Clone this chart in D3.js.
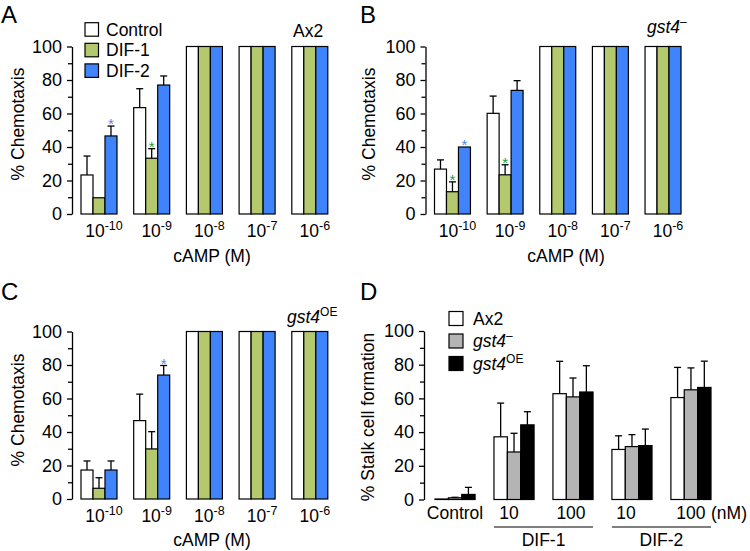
<!DOCTYPE html>
<html><head><meta charset="utf-8">
<script src="https://cdn.jsdelivr.net/npm/d3@7"></script>
<style>
body{margin:0;background:#fff;}
text{font-family:"Liberation Sans", Arial, Helvetica, sans-serif;fill:#000;}
</style></head><body>
<svg id="chart" width="750" height="551" xmlns="http://www.w3.org/2000/svg"></svg>
<script>
// ---------- data ----------
const camp = ["-10", "-9", "-8", "-7", "-6"];
const chemoSeries = ["Control", "DIF-1", "DIF-2"];
const chemoColors = ["#ffffff", "#b4c86e", "#4084fc"];

// Panel A (Ax2)
const aControl = [23.3, 63.5, 100, 100, 100];
const aControlErr = [11.3, 11.3, 0, 0, 0];
const aDif1 = [9.7, 33.3, 100, 100, 100];
const aDif1Err = [0, 5.7, 0, 0, 0];
const aDif2 = [46.6, 77.0, 100, 100, 100];
const aDif2Err = [5.9, 5.4, 0, 0, 0];
const aStars = [[0, 2], [1, 1]];

// Panel B (gst4-)
const bControl = [26.8, 60.1, 100, 100, 100];
const bControlErr = [5.5, 10.3, 0, 0, 0];
const bDif1 = [13.3, 23.4, 100, 100, 100];
const bDif1Err = [5.9, 6.0, 0, 0, 0];
const bDif2 = [40.0, 73.8, 100, 100, 100];
const bDif2Err = [0, 5.8, 0, 0, 0];
const bStars = [[0, 1], [0, 2], [1, 1]];

// Panel C (gst4OE)
const cControl = [17.3, 46.8, 100, 100, 100];
const cControlErr = [5.4, 15.8, 0, 0, 0];
const cDif1 = [6.4, 29.9, 100, 100, 100];
const cDif1Err = [6.3, 10.3, 0, 0, 0];
const cDif2 = [17.3, 74.0, 100, 100, 100];
const cDif2Err = [5.4, 5.7, 0, 0, 0];
const cStars = [[1, 2]];

// Panel D (stalk cell formation)
const stalkGroups = ["Control", "DIF-1 10", "DIF-1 100", "DIF-2 10", "DIF-2 100"];
const stalkTickLabels = ["Control", "10", "100", "10", "100"];
const strains = ["Ax2", "gst4-", "gst4OE"];
const strainColors = ["#ffffff", "#b4b4b4", "#000000"];
const dAx2 = [0.3, 37.2, 62.8, 29.7, 60.5];
const dAx2Err = [0, 20.0, 19.2, 8.1, 17.9];
const dGst4 = [1.0, 28.2, 60.9, 31.4, 65.1];
const dGst4Err = [0.3, 11.1, 11.2, 7.1, 13.0];
const dGst4OE = [3.0, 44.3, 63.8, 32.0, 66.5];
const dGst4OEErr = [4.2, 7.8, 15.6, 9.8, 15.6];

const majorTicks = [0, 20, 40, 60, 80, 100];
const minorTicks = [10, 30, 50, 70, 90];

// ---------- drawing ----------
const svg = d3.select("#chart");
const FS = 17.5;
const TFS = 18;

function drawPanel(p) {
  const g = svg.append("g");
  const y = d3.scaleLinear().domain([0, 100]).range([p.y0, p.y100]);
  const x0 = d3.scaleBand().domain(p.groups).range(p.xRange).paddingInner(p.padInner).paddingOuter(0);
  const x1 = d3.scaleBand().domain(p.series).range([0, x0.bandwidth()]);

  // axis
  const axG = g.append("g").attr("transform", `translate(${p.axisX},0)`);
  axG.call(d3.axisLeft(y).tickValues(majorTicks).tickSize(5).tickSizeOuter(0).tickPadding(5).tickFormat(d3.format("d")));
  axG.selectAll("text").style("font-size", TFS + "px").style("font-family", "'Liberation Sans', Arial, sans-serif");
  axG.select(".domain").attr("stroke-width", 1.3);
  axG.selectAll(".tick line").attr("stroke-width", 1.3);
  const mn = g.append("g").attr("transform", `translate(${p.axisX},0)`);
  mn.call(d3.axisLeft(y).tickValues(minorTicks).tickSize(4).tickSizeOuter(0).tickFormat(""));
  mn.select(".domain").remove();
  mn.selectAll(".tick line").attr("stroke-width", 1.3);

  // bars
  p.values.forEach((vals, si) => {
    const errs = p.errors[si];
    const bars = g.append("g");
    vals.forEach((v, gi) => {
      const bx = x0(p.groups[gi]) + x1(p.series[si]);
      const bw = x1.bandwidth();
      bars.append("rect")
        .attr("x", bx).attr("y", y(v))
        .attr("width", bw).attr("height", y(0) - y(v))
        .attr("fill", p.colors[si]).attr("stroke", "#000").attr("stroke-width", 1.2);
      if (errs[gi] > 0) {
        const cx = bx + bw / 2;
        bars.append("line").attr("x1", cx).attr("x2", cx)
          .attr("y1", y(v)).attr("y2", y(v + errs[gi]))
          .attr("stroke", "#000").attr("stroke-width", 1.3);
        bars.append("line").attr("x1", cx - 3.5).attr("x2", cx + 3.5)
          .attr("y1", y(v + errs[gi])).attr("y2", y(v + errs[gi]))
          .attr("stroke", "#000").attr("stroke-width", 1.3);
      }
    });
  });

  // stars
  (p.stars || []).forEach(([gi, si]) => {
    const bx = x0(p.groups[gi]) + x1(p.series[si]) + x1.bandwidth() / 2;
    const top = p.values[si][gi] + p.errors[si][gi];
    g.append("text").attr("x", bx).attr("y", y(top) + 3)
      .attr("text-anchor", "middle").style("font-size", "15px")
      .style("fill", p.starColors[si]).text("*");
  });
  return { g, x0, x1, y };
}

function campLabels(P, baseY, xOff, titleX, titleY) {
  camp.forEach(c => {
    const t = P.g.append("text").attr("x", P.x0(c) + P.x0.bandwidth() / 2 + xOff).attr("y", baseY)
      .attr("text-anchor", "middle").style("font-size", FS + "px");
    t.append("tspan").text("10");
    t.append("tspan").attr("dy", -7).style("font-size", "12.5px").text(c);
  });
  P.g.append("text").attr("x", titleX).attr("y", titleY).attr("text-anchor", "middle")
    .style("font-size", FS + "px").text("cAMP (M)");
}

function yTitle(x, yc, txt) {
  svg.append("text").attr("transform", `translate(${x},${yc}) rotate(-90)`)
    .attr("text-anchor", "middle").style("font-size", FS + "px").text(txt);
}

function panelLetter(x, y, l) {
  svg.append("text").attr("x", x).attr("y", y).style("font-size", "24px").text(l);
}

const starCols = ["#000", "#22a030", "#4a86f5"];

// Panel A
const PA = drawPanel({
  groups: camp, series: chemoSeries, colors: chemoColors,
  values: [aControl, aDif1, aDif2], errors: [aControlErr, aDif1Err, aDif2Err],
  stars: aStars, starColors: starCols,
  y0: 214, y100: 46.5, axisX: 72, xRange: [81, 327.8], padInner: 0.317
});
campLabels(PA, 237, 5, 212, 262);
yTitle(24, 124, "% Chemotaxis");
panelLetter(1, 23, "A");
// legend A
chemoSeries.forEach((s, i) => {
  const cy = 29.5 + i * 20.6;
  svg.append("rect").attr("x", 85).attr("y", cy - 6.8).attr("width", 13.5).attr("height", 13.5)
    .attr("fill", chemoColors[i]).attr("stroke", "#000").attr("stroke-width", 1.2);
  svg.append("text").attr("x", 106).attr("y", cy + 6).style("font-size", FS + "px").text(s);
});
svg.append("text").attr("x", 293).attr("y", 37).style("font-size", FS + "px").text("Ax2");

// Panel B
const PB = drawPanel({
  groups: camp, series: chemoSeries, colors: chemoColors,
  values: [bControl, bDif1, bDif2], errors: [bControlErr, bDif1Err, bDif2Err],
  stars: bStars, starColors: starCols,
  y0: 214, y100: 46.5, axisX: 425.5, xRange: [434.5, 681], padInner: 0.317
});
campLabels(PB, 237, 5, 566, 262);
yTitle(375, 124, "% Chemotaxis");
panelLetter(360, 23, "B");
{
  const t = svg.append("text").attr("x", 647).attr("y", 33).style("font-size", FS + "px");
  t.append("tspan").style("font-style", "italic").text("gst4");
  t.append("tspan").attr("dy", -7).style("font-size", "12px").text("\u2013");
}

// Panel C
const PC = drawPanel({
  groups: camp, series: chemoSeries, colors: chemoColors,
  values: [cControl, cDif1, cDif2], errors: [cControlErr, cDif1Err, cDif2Err],
  stars: cStars, starColors: starCols,
  y0: 499, y100: 331.5, axisX: 72, xRange: [81, 327.8], padInner: 0.317
});
campLabels(PC, 522, 5, 212, 546);
yTitle(24, 410, "% Chemotaxis");
panelLetter(1, 300, "C");
{
  const t = svg.append("text").attr("x", 287).attr("y", 323).style("font-size", FS + "px");
  t.append("tspan").style("font-style", "italic").text("gst4");
  t.append("tspan").attr("dy", -7).style("font-size", "12px").text("OE");
}

// Panel D
const PD = drawPanel({
  groups: stalkGroups, series: strains, colors: strainColors,
  values: [dAx2, dGst4, dGst4OE], errors: [dAx2Err, dGst4Err, dGst4OEErr],
  y0: 499.5, y100: 331, axisX: 424, xRange: [435, 711], padInner: 0.32
});
yTitle(374, 417, "% Stalk cell formation");
panelLetter(360, 300, "D");
const dOff = [0, -5, -2, -6, 0];
stalkGroups.forEach((gname, i) => {
  PD.g.append("text").attr("x", PD.x0(gname) + PD.x0.bandwidth() / 2 + dOff[i]).attr("y", 519)
    .attr("text-anchor", "middle").style("font-size", FS + "px").text(stalkTickLabels[i]);
});
PD.g.append("text").attr("x", 711).attr("y", 519).style("font-size", FS + "px").text("(nM)");
[["DIF-1", "DIF-1 10", "DIF-1 100"], ["DIF-2", "DIF-2 10", "DIF-2 100"]].forEach(([lab, a, b]) => {
  const xs = PD.x0(a), xe = PD.x0(b) + PD.x0.bandwidth();
  PD.g.append("line").attr("x1", xs).attr("x2", xe).attr("y1", 527).attr("y2", 527)
    .attr("stroke", "#000").attr("stroke-width", 1.2);
  PD.g.append("text").attr("x", (xs + xe) / 2).attr("y", 546).attr("text-anchor", "middle")
    .style("font-size", FS + "px").text(lab);
});
// legend D
strains.forEach((s, i) => {
  const cy = 318.5 + i * 22.5;
  svg.append("rect").attr("x", 449).attr("y", cy - 7).attr("width", 14).attr("height", 14)
    .attr("fill", strainColors[i]).attr("stroke", "#000").attr("stroke-width", 1.2);
  const t = svg.append("text").attr("x", 473).attr("y", cy + 6).style("font-size", FS + "px");
  if (i === 0) t.text("Ax2");
  else {
    t.append("tspan").style("font-style", "italic").text("gst4");
    t.append("tspan").attr("dy", -7).style("font-size", "12px").text(i === 1 ? "\u2013" : "OE");
  }
});
</script>
</body></html>
